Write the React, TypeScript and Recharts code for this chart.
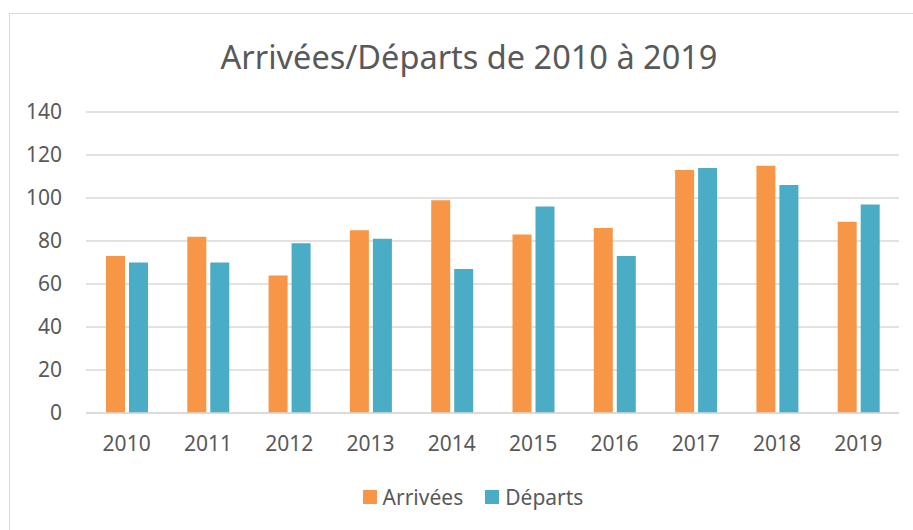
import React from "react";
import { BarChart, Bar, XAxis, YAxis, CartesianGrid, Legend } from "recharts";

const years = ["2010", "2011", "2012", "2013", "2014", "2015", "2016", "2017", "2018", "2019"];
const arrivees = [73, 82, 64, 85, 99, 83, 86, 113, 115, 89];
const departs = [70, 70, 79, 81, 67, 96, 73, 114, 106, 97];
const yTicks = [0, 20, 40, 60, 80, 100, 120, 140];

const data = years.map((y, i) => ({ year: y, Arrivées: arrivees[i], Départs: departs[i] }));

const FONT = "'Noto Sans', sans-serif";
const TXT = "#595959";

const LegendContent = (props: any) => {
  const { payload } = props;
  return (
    <div style={{ display: "flex", justifyContent: "center", alignItems: "center", fontFamily: FONT, fontSize: 21, color: TXT }}>
      {(payload || []).map((p: any, i: number) => (
        <div key={i} style={{ display: "flex", alignItems: "center", marginLeft: i > 0 ? 22 : 0 }}>
          <span style={{ display: "inline-block", width: 14, height: 14, background: p.color, marginRight: 6 }} />
          <span>{p.value}</span>
        </div>
      ))}
    </div>
  );
};

export default function App() {
  return (
    <div style={{ position: "absolute", left: 0, top: 0, width: 913, height: 530, background: "#fff", overflow: "hidden" }}>
      <div style={{ position: "absolute", left: 9, top: 13, width: 1000, height: 1000, border: "1.5px solid #D9D9D9", boxSizing: "border-box" }} />
      <div style={{ position: "absolute", left: 0, top: 36, width: 938, textAlign: "center", fontFamily: FONT, fontSize: 32.5, color: TXT, lineHeight: "42px" }}>
        Arrivées/Départs de 2010 à 2019
      </div>
      <div style={{ position: "absolute", left: 0, top: 0 }}>
        <BarChart width={913} height={530} data={data} margin={{ top: 112, right: 14, left: 0, bottom: 77 }} barSize={19} barGap={4}>
          <CartesianGrid vertical={false} stroke="#D9D9D9" strokeWidth={1.5} />
          <XAxis dataKey="year" height={40} axisLine={{ stroke: "#D9D9D9", strokeWidth: 1.5 }} tickLine={false} tickSize={0} tickMargin={23} tick={{ fill: TXT, fontSize: 21, fontFamily: FONT }} interval={0} />
          <YAxis width={86} domain={[0, 140]} ticks={yTicks} axisLine={false} tickLine={false} tickSize={0} tickMargin={24} tick={{ fill: TXT, fontSize: 21, fontFamily: FONT }} />
          <Legend layout="horizontal" verticalAlign="middle" align="center" content={<LegendContent />} wrapperStyle={{ top: 483, left: 0, width: 946 }} />
          <Bar dataKey="Arrivées" fill="#F79646" isAnimationActive={false} />
          <Bar dataKey="Départs" fill="#4BACC6" isAnimationActive={false} />
        </BarChart>
      </div>
    </div>
  );
}
